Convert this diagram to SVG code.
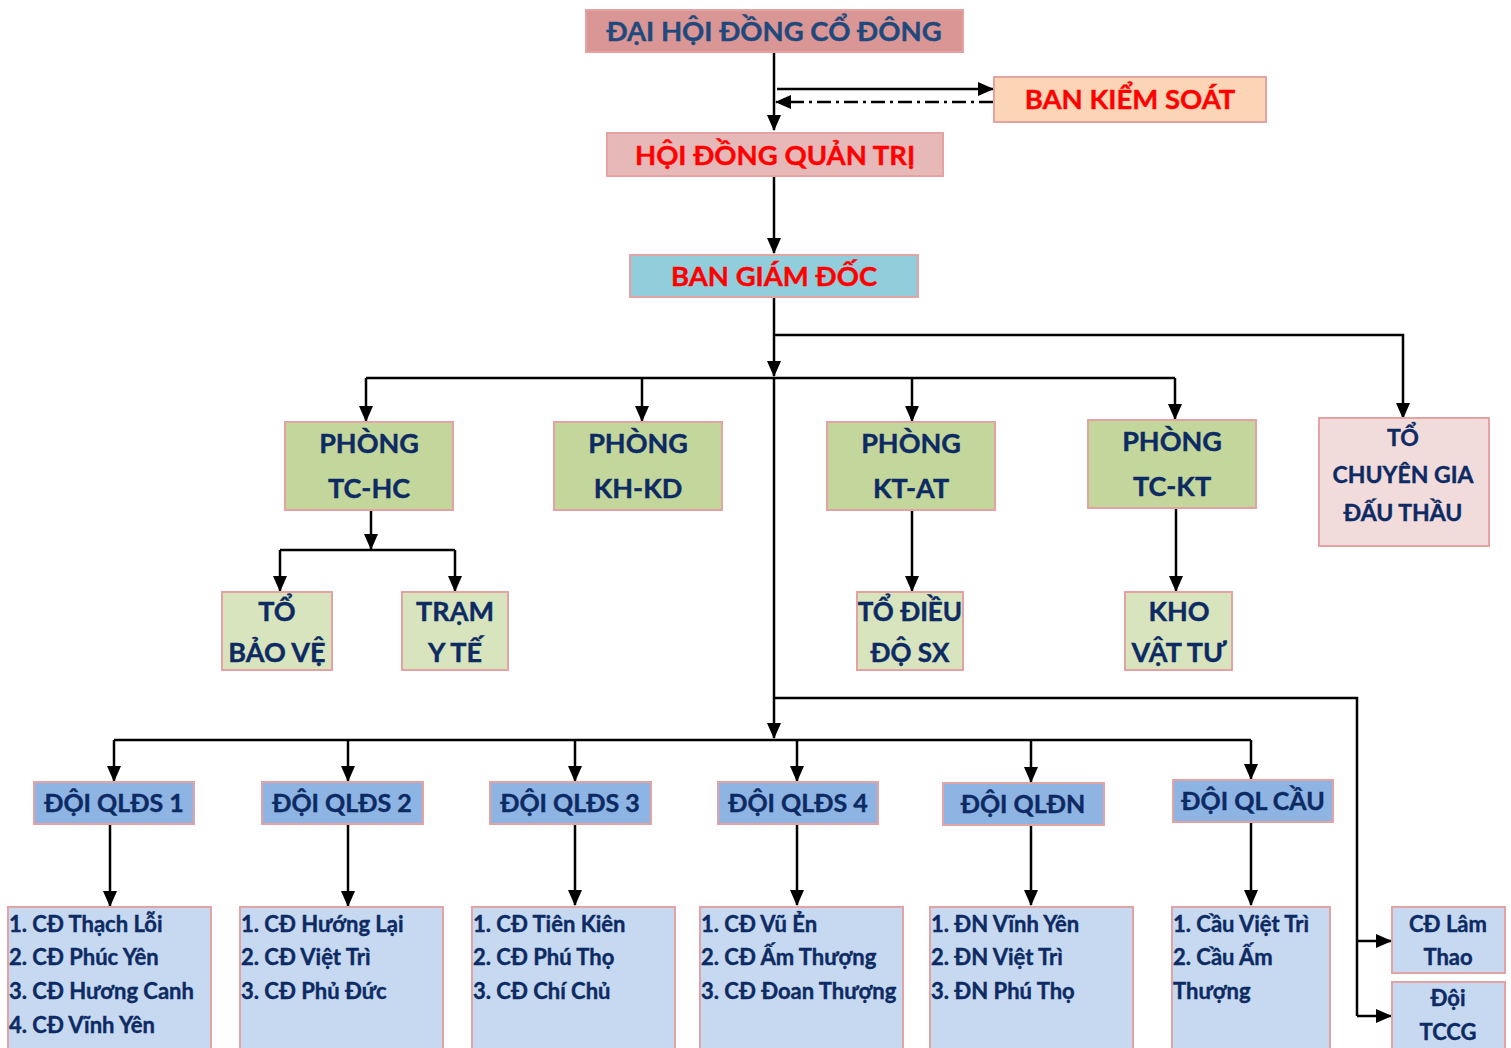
<svg xmlns="http://www.w3.org/2000/svg" width="1511" height="1048" viewBox="0 0 1511 1048">
<style>
text{font-family:Lato,"Liberation Sans",sans-serif;font-weight:bold;stroke-width:0.4}
.box{stroke:#E3A3A2;stroke-width:2}
.c{text-anchor:middle}
.navy{fill:#0D2A63;stroke:#0D2A63}
.blue{fill:#1F497D;stroke:#1F497D}
.red{fill:#FF0000;stroke:#FF0000}
.l{fill:none;stroke:#000;stroke-width:2.5}
.big{font-size:27.5px}
.mid{font-size:27px}
.team{font-size:25px}
.sub{font-size:22px}
</style>
<defs>
<marker id="ah" markerUnits="userSpaceOnUse" markerWidth="16" markerHeight="14" refX="15" refY="7" orient="auto">
<path d="M0,0 L16,7 L0,14 Z" fill="#000"/>
</marker>
</defs>
<rect width="1511" height="1048" fill="#fff"/>

<g id="connectors">
<path class="l" d="M774,52 V130" marker-end="url(#ah)"/>
<path class="l" d="M777,89 H993" marker-end="url(#ah)"/>
<path class="l" d="M993,102 H776" stroke-dasharray="14,5,3,5" marker-end="url(#ah)"/>
<path class="l" d="M774,176 V253" marker-end="url(#ah)"/>
<path class="l" d="M774,297 V376" marker-end="url(#ah)"/>
<path class="l" d="M774,335 H1403 V418" marker-end="url(#ah)"/>
<path class="l" d="M366,378 H1175"/>
<path class="l" d="M366,378 V421" marker-end="url(#ah)"/>
<path class="l" d="M642,378 V421" marker-end="url(#ah)"/>
<path class="l" d="M912,378 V421" marker-end="url(#ah)"/>
<path class="l" d="M1175,378 V419" marker-end="url(#ah)"/>
<path class="l" d="M774,378 V738" marker-end="url(#ah)"/>
<path class="l" d="M371,510 V549" marker-end="url(#ah)"/>
<path class="l" d="M280,550 H455"/>
<path class="l" d="M280,550 V591" marker-end="url(#ah)"/>
<path class="l" d="M455,550 V591" marker-end="url(#ah)"/>
<path class="l" d="M912,510 V591" marker-end="url(#ah)"/>
<path class="l" d="M1176,508 V591" marker-end="url(#ah)"/>
<path class="l" d="M774,698 H1357 V1016"/>
<path class="l" d="M1357,941 H1391" marker-end="url(#ah)"/>
<path class="l" d="M1357,1016 H1391" marker-end="url(#ah)"/>
<path class="l" d="M114,740 H1251"/>
<path class="l" d="M114,740 V781" marker-end="url(#ah)"/>
<path class="l" d="M348,740 V781" marker-end="url(#ah)"/>
<path class="l" d="M575,740 V781" marker-end="url(#ah)"/>
<path class="l" d="M797,740 V781" marker-end="url(#ah)"/>
<path class="l" d="M1031,740 V782" marker-end="url(#ah)"/>
<path class="l" d="M1251,740 V779" marker-end="url(#ah)"/>
<path class="l" d="M110,824 V906" marker-end="url(#ah)"/>
<path class="l" d="M348,824 V906" marker-end="url(#ah)"/>
<path class="l" d="M575,824 V905" marker-end="url(#ah)"/>
<path class="l" d="M797,824 V905" marker-end="url(#ah)"/>
<path class="l" d="M1031,825 V905" marker-end="url(#ah)"/>
<path class="l" d="M1251,822 V905" marker-end="url(#ah)"/>
</g>

<g id="dhdcd">
<rect class="box" x="586" y="10" width="377" height="42" fill="#D99694"/>
<text class="c blue big" x="774" y="41">ĐẠI HỘI ĐỒNG CỔ ĐÔNG</text>
</g>
<g id="bks">
<rect class="box" x="994" y="77" width="272" height="45" fill="#FBD5B5"/>
<text class="c red big" x="1130" y="109">BAN KIỂM SOÁT</text>
</g>
<g id="hdqt">
<rect class="box" x="607" y="133" width="336" height="43" fill="#E6B9B8"/>
<text class="c red big" x="775" y="165">HỘI ĐỒNG QUẢN TRỊ</text>
</g>
<g id="bgd">
<rect class="box" x="630" y="255" width="288" height="42" fill="#92CDDC"/>
<text class="c red big" x="774" y="286">BAN GIÁM ĐỐC</text>
</g>

<g id="tchc">
<rect class="box" x="285" y="422" width="168" height="88" fill="#C3D69B"/>
<text class="c navy mid" x="369" y="453">PHÒNG</text>
<text class="c navy mid" x="369" y="498">TC-HC</text>
</g>
<g id="khkd">
<rect class="box" x="554" y="422" width="168" height="88" fill="#C3D69B"/>
<text class="c navy mid" x="638" y="453">PHÒNG</text>
<text class="c navy mid" x="638" y="498">KH-KD</text>
</g>
<g id="ktat">
<rect class="box" x="827" y="422" width="168" height="88" fill="#C3D69B"/>
<text class="c navy mid" x="911" y="453">PHÒNG</text>
<text class="c navy mid" x="911" y="498">KT-AT</text>
</g>
<g id="tckt">
<rect class="box" x="1088" y="420" width="168" height="88" fill="#C3D69B"/>
<text class="c navy mid" x="1172" y="451">PHÒNG</text>
<text class="c navy mid" x="1172" y="496">TC-KT</text>
</g>
<g id="tcg">
<rect class="box" x="1319" y="418" width="170" height="128" fill="#F2DCDB"/>
<text class="c navy" x="1403" y="446" font-size="23">TỔ</text>
<text class="c navy" x="1403" y="483" font-size="23">CHUYÊN GIA</text>
<text class="c navy" x="1403" y="521" font-size="23">ĐẤU THẦU</text>
</g>

<g id="tobaove">
<rect class="box" x="222" y="592" width="110" height="78" fill="#D7E4BD"/>
<text class="c navy mid" x="277" y="621">TỔ</text>
<text class="c navy mid" x="277" y="662">BẢO VỆ</text>
</g>
<g id="tramyte">
<rect class="box" x="402" y="592" width="106" height="78" fill="#D7E4BD"/>
<text class="c navy mid" x="455" y="621">TRẠM</text>
<text class="c navy mid" x="455" y="662">Y TẾ</text>
</g>
<g id="todieudo">
<rect class="box" x="857" y="592" width="106" height="78" fill="#D7E4BD"/>
<text class="c navy" font-size="26" x="910" y="621">TỔ ĐIỀU</text>
<text class="c navy" font-size="26" x="910" y="662">ĐỘ SX</text>
</g>
<g id="khovattu">
<rect class="box" x="1125" y="592" width="107" height="78" fill="#D7E4BD"/>
<text class="c navy mid" x="1179" y="621">KHO</text>
<text class="c navy mid" x="1179" y="662">VẬT TƯ</text>
</g>

<g id="qlds1">
<rect class="box" x="34" y="782" width="160" height="42" fill="#8EB4E3"/>
<text class="c navy team" x="114" y="812">ĐỘI QLĐS 1</text>
</g>
<g id="qlds2">
<rect class="box" x="262" y="782" width="161" height="42" fill="#8EB4E3"/>
<text class="c navy team" x="342" y="812">ĐỘI QLĐS 2</text>
</g>
<g id="qlds3">
<rect class="box" x="490" y="782" width="161" height="42" fill="#8EB4E3"/>
<text class="c navy team" x="570" y="812">ĐỘI QLĐS 3</text>
</g>
<g id="qlds4">
<rect class="box" x="718" y="782" width="160" height="42" fill="#8EB4E3"/>
<text class="c navy team" x="798" y="812">ĐỘI QLĐS 4</text>
</g>
<g id="qldn">
<rect class="box" x="943" y="783" width="161" height="42" fill="#8EB4E3"/>
<text class="c navy team" x="1023" y="813">ĐỘI QLĐN</text>
</g>
<g id="qlcau">
<rect class="box" x="1173" y="780" width="160" height="42" fill="#8EB4E3"/>
<text class="c navy team" x="1253" y="810">ĐỘI QL CẦU</text>
</g>

<g id="sub1">
<rect class="box" x="8" y="907" width="203" height="150" fill="#C6D9F1"/>
<text class="navy sub" x="9" y="932">1. CĐ Thạch Lỗi</text>
<text class="navy sub" x="9" y="965">2. CĐ Phúc Yên</text>
<text class="navy sub" x="9" y="999">3. CĐ Hương Canh</text>
<text class="navy sub" x="9" y="1033">4. CĐ Vĩnh Yên</text>
</g>
<g id="sub2">
<rect class="box" x="240" y="907" width="203" height="150" fill="#C6D9F1"/>
<text class="navy sub" x="241" y="932">1. CĐ Hướng Lại</text>
<text class="navy sub" x="241" y="965">2. CĐ Việt Trì</text>
<text class="navy sub" x="241" y="999">3. CĐ Phủ Đức</text>
</g>
<g id="sub3">
<rect class="box" x="472" y="907" width="203" height="150" fill="#C6D9F1"/>
<text class="navy sub" x="473" y="932">1. CĐ Tiên Kiên</text>
<text class="navy sub" x="473" y="965">2. CĐ Phú Thọ</text>
<text class="navy sub" x="473" y="999">3. CĐ Chí Chủ</text>
</g>
<g id="sub4">
<rect class="box" x="700" y="907" width="203" height="150" fill="#C6D9F1"/>
<text class="navy sub" x="701" y="932">1. CĐ Vũ Ẻn</text>
<text class="navy sub" x="701" y="965">2. CĐ Ấm Thượng</text>
<text class="navy sub" x="701" y="999">3. CĐ Đoan Thượng</text>
</g>
<g id="sub5">
<rect class="box" x="930" y="907" width="203" height="150" fill="#C6D9F1"/>
<text class="navy sub" x="931" y="932">1. ĐN Vĩnh Yên</text>
<text class="navy sub" x="931" y="965">2. ĐN Việt Trì</text>
<text class="navy sub" x="931" y="999">3. ĐN Phú Thọ</text>
</g>
<g id="sub6">
<rect class="box" x="1172" y="907" width="158" height="150" fill="#C6D9F1"/>
<text class="navy sub" x="1173" y="932">1. Cầu Việt Trì</text>
<text class="navy sub" x="1173" y="965">2. Cầu Ấm</text>
<text class="navy sub" x="1173" y="999">Thượng</text>
</g>
<g id="lamthao">
<rect class="box" x="1392" y="907" width="113" height="66" fill="#C6D9F1"/>
<text class="c navy sub" x="1448" y="932">CĐ Lâm</text>
<text class="c navy sub" x="1448" y="965">Thao</text>
</g>
<g id="tccg">
<rect class="box" x="1392" y="982" width="113" height="75" fill="#C6D9F1"/>
<text class="c navy sub" x="1448" y="1006">Đội</text>
<text class="c navy sub" x="1448" y="1040">TCCG</text>
</g>
</svg>
